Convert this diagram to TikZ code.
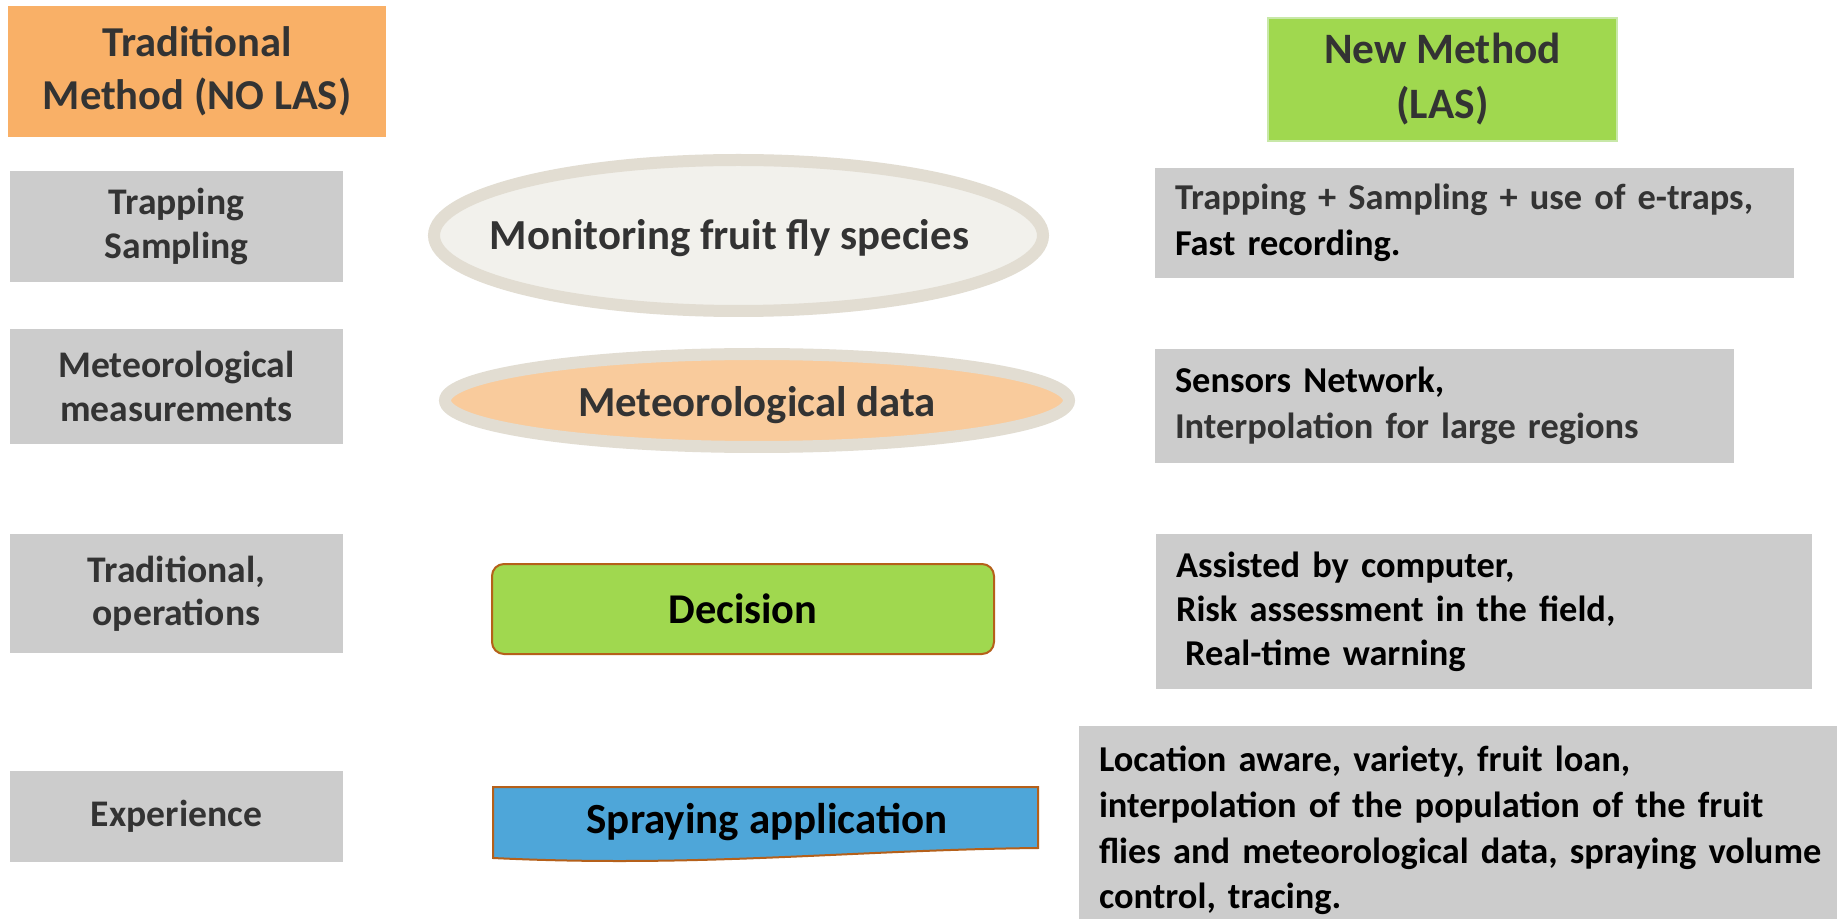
\documentclass[tikz,border=0pt]{standalone}
\usepackage{fontspec}
\setmainfont{Carlito}
\usetikzlibrary{shapes.geometric}
\definecolor{hdrorange}{HTML}{F9B067}
\definecolor{boxgray}{HTML}{CCCCCC}
\definecolor{lasgreen}{HTML}{A0D84F}
\definecolor{lasgreenedge}{HTML}{C8E8A8}
\definecolor{txtgray}{HTML}{333333}
\definecolor{ellfill}{HTML}{F2F1EC}
\definecolor{elledge}{HTML}{E2DDD2}
\definecolor{metfill}{HTML}{F9CB9C}
\definecolor{brownedge}{HTML}{B5601A}
\definecolor{sprayblue}{HTML}{4EA6D9}
\begin{document}
\begin{tikzpicture}[x=0.5pt,y=-0.5pt,
  leftbox/.style={fill=boxgray, minimum width=166.5pt, inner sep=0pt, align=center,
    text=txtgray, font=\bfseries\fontsize{18.8}{21.7}\selectfont},
  rightbox/.style={fill=boxgray, inner xsep=10pt, inner ysep=0pt, align=left,
    text=black, font=\bfseries\fontsize{18.2}{22.8}\selectfont},
  ellbox/.style={ellipse, inner sep=0pt, draw=elledge, line width=6pt},
  midtext/.style={anchor=base, inner sep=0pt, font=\bfseries\fontsize{21.4}{25}\selectfont},
  edgebox/.style={draw=brownedge, line width=1pt}
]
\useasboundingbox (0,0) rectangle (1837,919);
\fill[white] (0,0) rectangle (1837,919);

% headers
\node[fill=hdrorange, minimum width=189pt, minimum height=65.5pt, inner sep=0pt,
  align=center, text=txtgray, font=\bfseries\fontsize{21.3}{26.5}\selectfont]
  (hdrtrad) at (197,71.5) {Traditional\\Method (NO LAS)};
\node[fill=lasgreen, draw=lasgreenedge, line width=1pt, minimum width=174.5pt, minimum height=61.5pt,
  inner sep=0pt, align=center, text=txtgray, font=\bfseries\fontsize{21.7}{27.5}\selectfont]
  (hdrnew) at (1442.5,79.5) {New Method\\(LAS)};

% left column
\node[leftbox, minimum height=55.5pt] (l1) at (176.5,226.5) {Trapping\\Sampling};
\node[leftbox, minimum height=57.5pt] (l2) at (176.5,386.5) {Meteorological\\measurements};
\node[leftbox, minimum height=59.5pt] (l3) at (176.5,593.5) {Traditional,\\operations};
\node[leftbox, minimum height=45.5pt] (l4) at (176.5,816.5) {Experience};

% middle column
\node[ellbox, fill=ellfill, minimum width=304.5pt, minimum height=75.5pt] (mon) at (738.5,235.5) {};
\node[midtext, text=txtgray] (montext) at (729.5,250) {Monitoring fruit fly species};
\node[ellbox, fill=metfill, minimum width=312pt, minimum height=46.5pt] (met) at (757,400.5) {};
\node[midtext, text=txtgray] (mettext) at (757,417) {Meteorological data};
\node[edgebox, fill=lasgreen, rounded corners=6pt, minimum width=251pt, minimum height=45pt,
  inner sep=0pt, font=\bfseries\fontsize{21.2}{25}\selectfont] (dec) at (743,609) {Decision};
\path[edgebox, fill=sprayblue] (493,787) -- (1038,787) -- (1038,848)
  .. controls (850,850) and (700,868) .. (493,858) -- cycle;
\node[midtext, font=\bfseries\fontsize{21.5}{25}\selectfont] (spray) at (767,833) {Spraying application};

% right column
\node[rightbox, text width=299.5pt, minimum height=55pt] (r1) at (1474.5,223)
  {\textcolor{txtgray}{Trapping + Sampling + use of e-traps,}\\Fast recording.};
\node[rightbox, text width=269.5pt, minimum height=57pt] (r2) at (1444.5,406)
  {Sensors Network,\\\textcolor{txtgray}{Interpolation for large regions}};
\node[rightbox, text width=308pt, minimum height=77.5pt,
  font=\bfseries\fontsize{18.2}{22}\selectfont] (r3) at (1484,611.5)
  {Assisted by computer,\\Risk assessment in the field,\\\hspace*{0.25em}Real-time warning};
\node[rightbox, text width=372pt, minimum height=104.5pt] (r4) at (1471,830.5)
  {Location aware, variety, fruit loan,\\interpolation of the population of the fruit\\flies and meteorological data, spraying volume\\control, tracing.};
\end{tikzpicture}
\end{document}
